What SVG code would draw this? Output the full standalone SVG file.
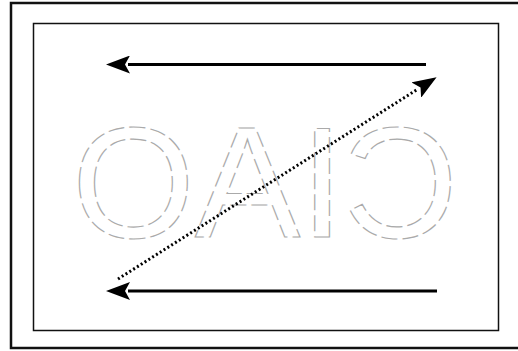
<svg xmlns="http://www.w3.org/2000/svg" width="518" height="351" viewBox="0 0 518 351">
<style>
.frame{fill:none;stroke:#111}
.ghost{font-family:"Liberation Sans",Arial,sans-serif;font-size:158px;fill:none;stroke:#aaaaaa;stroke-width:1.2;stroke-dasharray:16 5}
.conn{stroke:#000;fill:none}
</style>
<defs>
<marker id="head" viewBox="0 0 24 18" refX="2" refY="9" markerWidth="24" markerHeight="18" markerUnits="userSpaceOnUse" orient="auto-start-reverse">
<path d="M24,9 L0,0 L5,9 L0,18 Z" fill="#000"/>
</marker>
</defs>
<rect width="518" height="351" fill="#fff"/>
<g id="outer-frame"><rect class="frame" x="11" y="3" width="510" height="345" stroke-width="2.5"/></g>
<g id="inner-frame"><rect class="frame" x="33.5" y="23.5" width="465" height="307" stroke-width="1.5"/></g>
<g id="mirrored-text"><text class="ghost" x="265" y="237" text-anchor="middle" transform="translate(530,0) scale(-1,1)">CIAO</text></g>
<g id="connectors">
<line class="conn" x1="426" y1="64.5" x2="128" y2="64.5" stroke-width="3" marker-end="url(#head)"/>
<line class="conn" x1="437" y1="291" x2="128" y2="291" stroke-width="3" marker-end="url(#head)"/>
<line class="conn" x1="118" y1="279" x2="418" y2="89" stroke-width="3" stroke-dasharray="2 2.5" marker-end="url(#head)"/>
</g>
</svg>
